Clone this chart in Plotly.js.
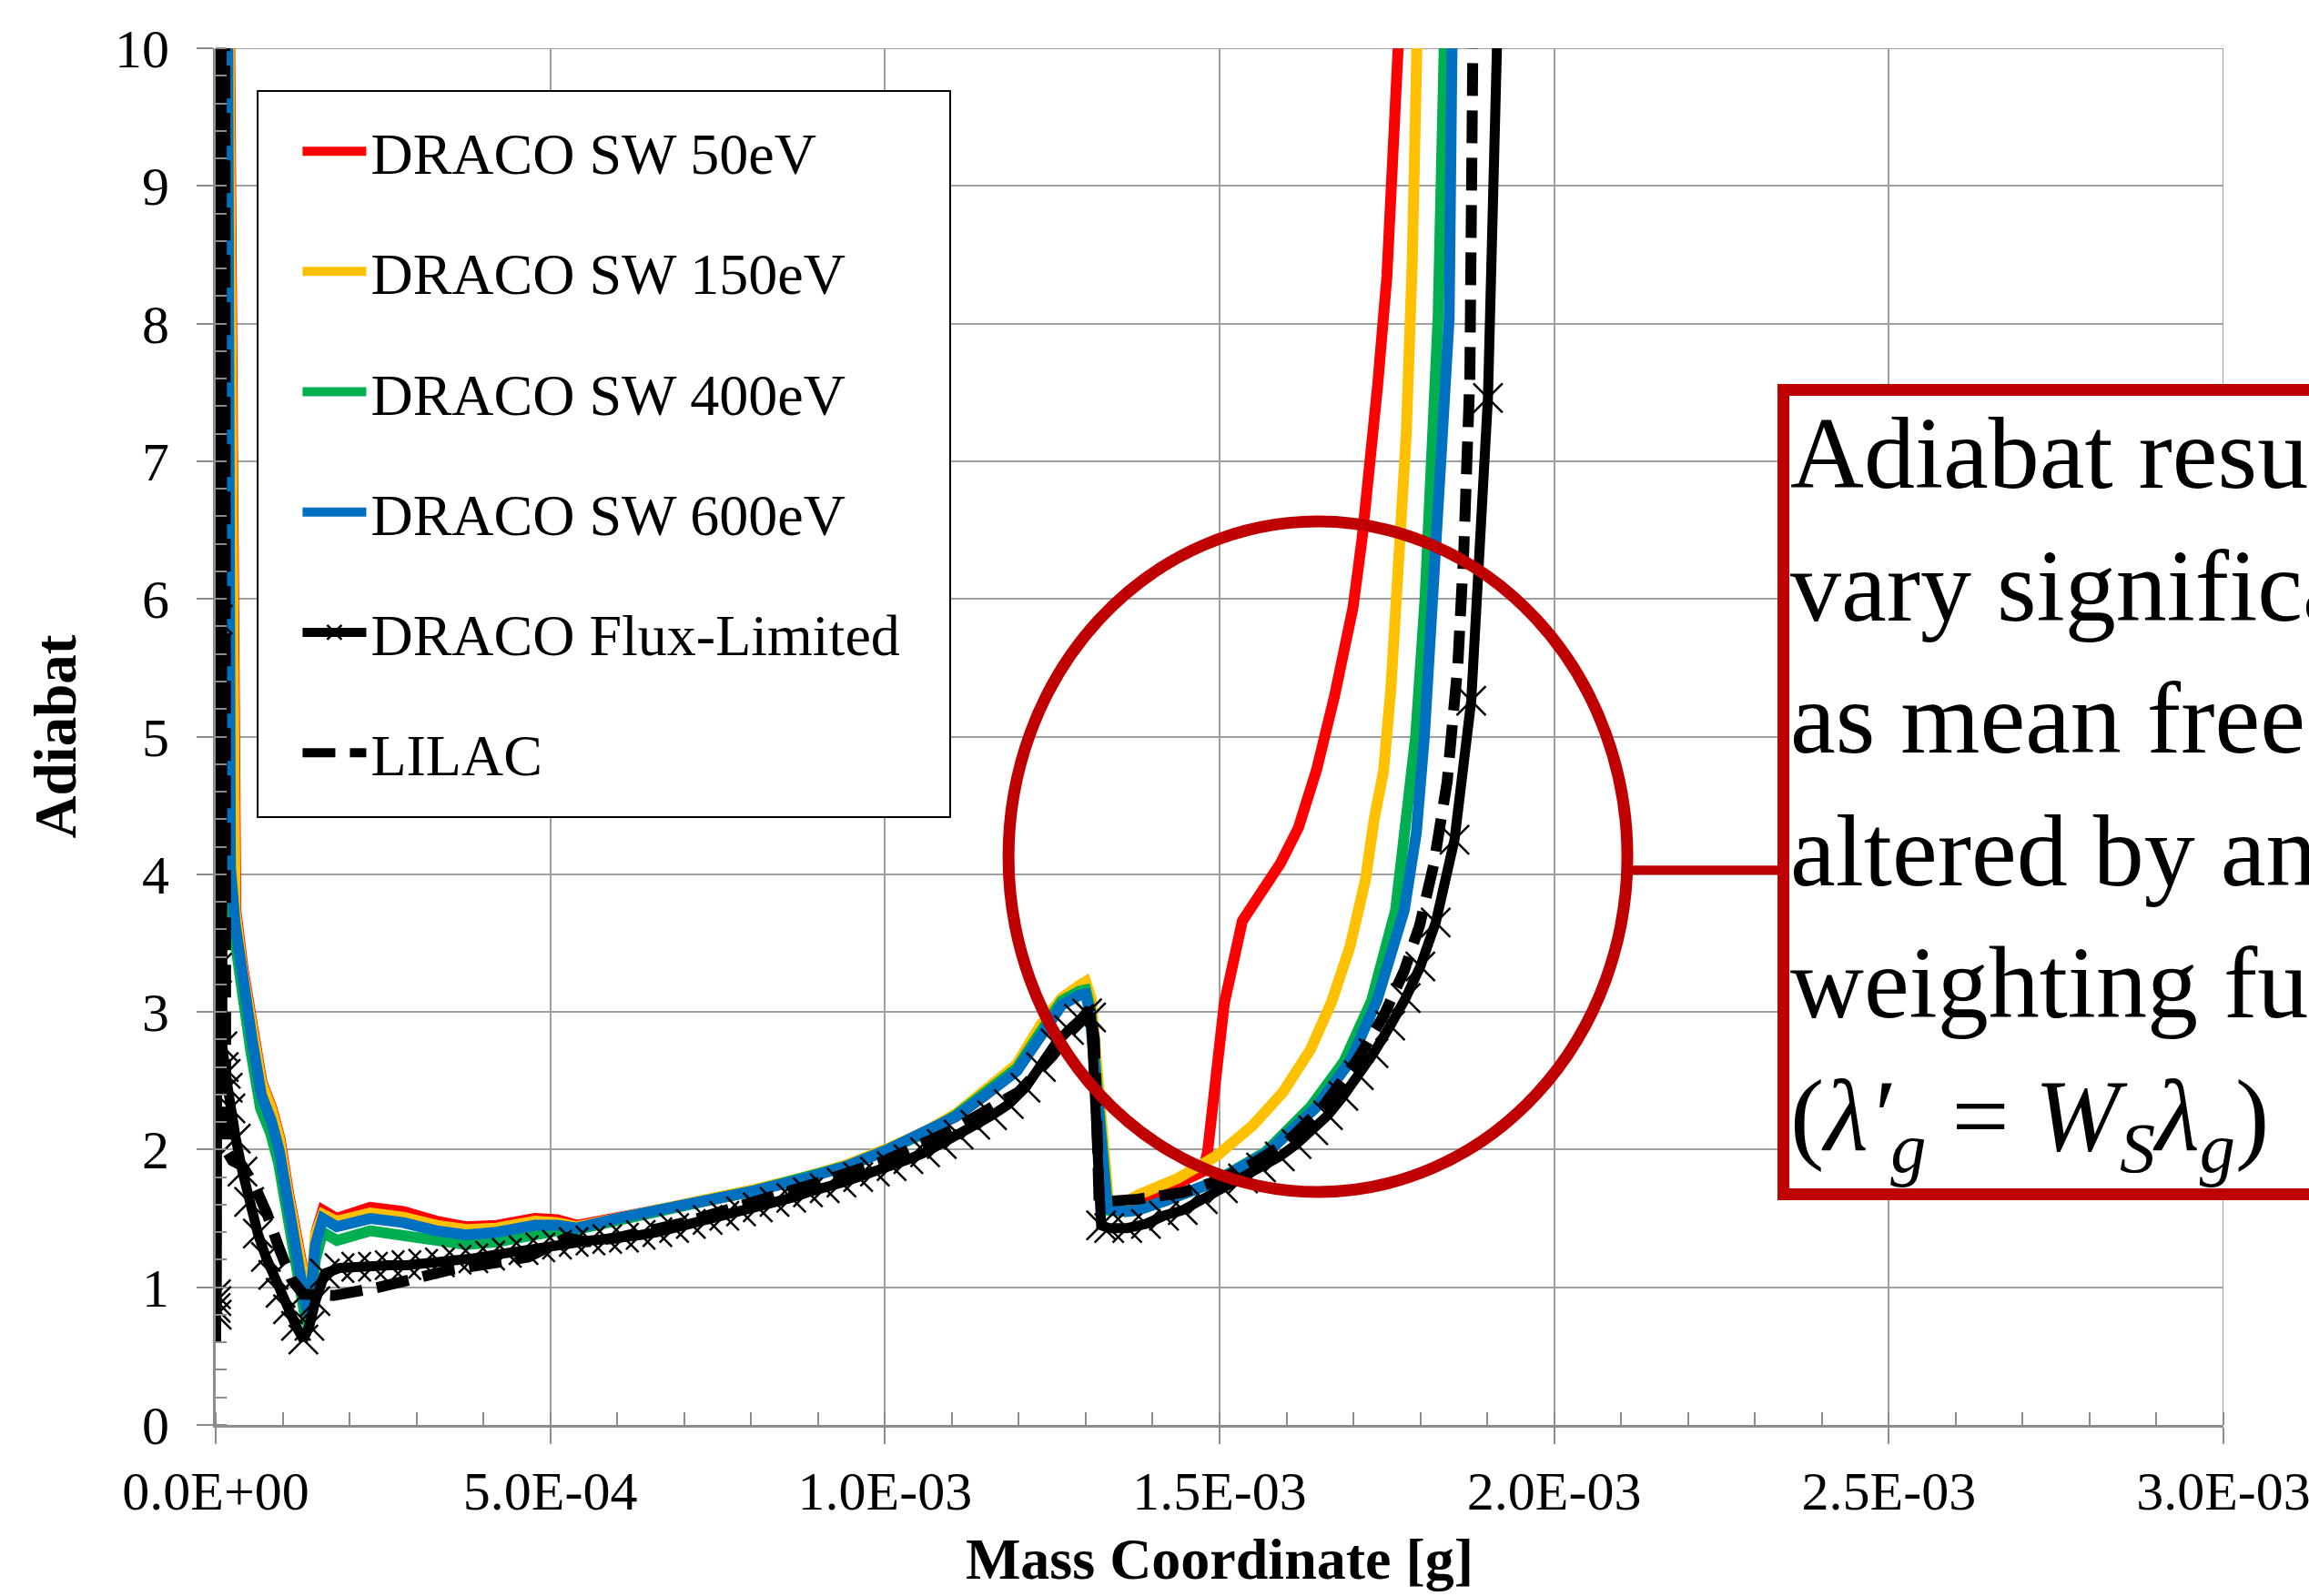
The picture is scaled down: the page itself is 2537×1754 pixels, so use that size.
<!DOCTYPE html>
<html><head><meta charset="utf-8">
<script src="https://cdn.plot.ly/plotly-3.0.1.min.js"></script>
<style>html,body{margin:0;padding:0;background:#fff}#chart{width:2537px;height:1754px}</style>
</head><body><div id="chart"></div><script>
// ---- data: [mass coordinate (g), adiabat] ----
const sw50 = [[0,0.9],[5e-6,10],[13e-6,30],[21e-6,10],[26e-6,4.1],[30e-6,3.74],[41e-6,3.31],[55e-6,2.90],[69e-6,2.49],[84e-6,2.30],[96e-6,2.08],[109e-6,1.68],[123e-6,1.27],[134e-6,0.98],[141e-6,0.85],[150e-6,1.40],[160e-6,1.56],[181e-6,1.50],[231e-6,1.58],[280e-6,1.55],[330e-6,1.48],[374e-6,1.44],[420e-6,1.45],[477e-6,1.50],[510e-6,1.49],[540e-6,1.45],[600e-6,1.50],[665e-6,1.56],[735e-6,1.63],[804e-6,1.70],[873e-6,1.78],[943e-6,1.88],[1.000e-3,1.99],[1.060e-3,2.12],[1.106e-3,2.24],[1.151e-3,2.40],[1.197e-3,2.58],[1.232e-3,2.85],[1.264e-3,3.08],[1.290e-3,3.15],[1.300e-3,3.16],[1.307e-3,3.02],[1.333e-3,1.58],[1.360e-3,1.58],[1.378e-3,1.62],[1.437e-3,1.74],[1.475e-3,1.84],[1.482e-3,1.98],[1.507e-3,3.06],[1.534e-3,3.66],[1.591e-3,4.08],[1.618e-3,4.34],[1.645e-3,4.76],[1.672e-3,5.30],[1.6995e-3,5.94],[1.713e-3,6.44],[1.7245e-3,6.91],[1.736e-3,7.54],[1.750e-3,8.34],[1.758e-3,8.97],[1.772e-3,10.0],[1.782e-3,11.5]];
const sw150 = [[0,0.9],[5e-6,10],[13e-6,30],[20e-6,10],[25e-6,4.1],[29e-6,3.74],[40e-6,3.31],[54e-6,2.90],[68e-6,2.49],[83e-6,2.30],[95e-6,2.08],[108e-6,1.68],[122e-6,1.27],[133e-6,0.98],[140e-6,0.85],[149e-6,1.38],[160e-6,1.53],[181e-6,1.48],[231e-6,1.54],[280e-6,1.51],[330e-6,1.45],[374e-6,1.42],[420e-6,1.43],[477e-6,1.48],[510e-6,1.47],[540e-6,1.44],[600e-6,1.50],[665e-6,1.56],[735e-6,1.64],[804e-6,1.71],[873e-6,1.79],[943e-6,1.89],[1.000e-3,2.00],[1.060e-3,2.13],[1.106e-3,2.26],[1.151e-3,2.43],[1.197e-3,2.62],[1.232e-3,2.90],[1.264e-3,3.10],[1.290e-3,3.19],[1.300e-3,3.22],[1.308e-3,3.10],[1.334e-3,1.62],[1.360e-3,1.62],[1.378e-3,1.67],[1.437e-3,1.79],[1.496e-3,1.956],[1.550e-3,2.177],[1.595e-3,2.419],[1.636e-3,2.728],[1.668e-3,3.08],[1.695e-3,3.477],[1.718e-3,3.96],[1.731e-3,4.40],[1.745e-3,4.75],[1.756e-3,5.35],[1.768e-3,6.36],[1.779e-3,7.2],[1.788e-3,8.47],[1.799e-3,10.0],[1.808e-3,13]];
const sw400 = [[0,0.9],[5e-6,10],[12e-6,30],[17e-6,10],[21e-6,4.0],[28e-6,3.55],[39e-6,3.12],[53e-6,2.70],[67e-6,2.30],[82e-6,2.12],[94e-6,1.90],[107e-6,1.50],[121e-6,1.10],[132e-6,0.83],[138e-6,0.72],[149e-6,1.20],[160e-6,1.40],[181e-6,1.34],[231e-6,1.41],[280e-6,1.38],[330e-6,1.33],[374e-6,1.31],[420e-6,1.33],[477e-6,1.39],[510e-6,1.41],[540e-6,1.42],[600e-6,1.49],[665e-6,1.56],[735e-6,1.63],[804e-6,1.70],[873e-6,1.78],[943e-6,1.88],[1.000e-3,1.99],[1.060e-3,2.12],[1.106e-3,2.25],[1.151e-3,2.41],[1.197e-3,2.59],[1.232e-3,2.85],[1.264e-3,3.08],[1.290e-3,3.15],[1.300e-3,3.16],[1.307e-3,3.02],[1.333e-3,1.56],[1.360e-3,1.55],[1.378e-3,1.56],[1.420e-3,1.63],[1.490e-3,1.76],[1.568e-3,1.98],[1.636e-3,2.31],[1.686e-3,2.64],[1.727e-3,3.08],[1.763e-3,3.74],[1.778e-3,4.35],[1.793e-3,5.0],[1.807e-3,6.0],[1.819e-3,7.2],[1.8265e-3,8.04],[1.8356e-3,10.0],[1.843e-3,14]];
const sw600 = [[0,0.9],[5e-6,10],[12e-6,30],[18e-6,10],[22e-6,4.05],[29e-6,3.64],[40e-6,3.22],[54e-6,2.81],[68e-6,2.40],[83e-6,2.21],[95e-6,1.99],[108e-6,1.58],[122e-6,1.17],[133e-6,0.90],[139e-6,0.80],[149e-6,1.31],[160e-6,1.50],[181e-6,1.44],[231e-6,1.50],[280e-6,1.47],[330e-6,1.41],[374e-6,1.38],[420e-6,1.40],[477e-6,1.45],[510e-6,1.45],[540e-6,1.43],[600e-6,1.50],[665e-6,1.56],[735e-6,1.63],[804e-6,1.70],[873e-6,1.78],[943e-6,1.88],[1.000e-3,1.99],[1.060e-3,2.12],[1.106e-3,2.24],[1.151e-3,2.40],[1.197e-3,2.57],[1.232e-3,2.82],[1.264e-3,3.05],[1.290e-3,3.12],[1.300e-3,3.13],[1.306e-3,3.00],[1.332e-3,1.57],[1.360e-3,1.55],[1.378e-3,1.56],[1.420e-3,1.63],[1.490e-3,1.76],[1.572e-3,1.98],[1.645e-3,2.31],[1.695e-3,2.64],[1.735e-3,3.08],[1.776e-3,3.74],[1.794e-3,4.30],[1.806e-3,5.0],[1.820e-3,6.0],[1.833e-3,7.2],[1.843e-3,8.04],[1.849e-3,10.0],[1.856e-3,14]];
const fluxLimited = [[0,0.85],[0.5e-6,0.95],[1e-6,0.9],[1.5e-6,0.8],[2e-6,3.32],[3e-6,5.85],[5e-6,16],[8e-6,16],[10e-6,2.75],[12e-6,2.6],[15e-6,2.55],[18e-6,2.45],[22e-6,2.3],[30e-6,2.08],[40e-6,1.84],[50e-6,1.62],[63e-6,1.39],[75e-6,1.22],[86e-6,1.09],[97e-6,0.96],[108e-6,0.84],[120e-6,0.72],[131e-6,0.62],[140e-6,0.72],[149e-6,0.90],[163e-6,1.10],[185e-6,1.14],[210e-6,1.15],[235e-6,1.15],[260e-6,1.16],[285e-6,1.16],[310e-6,1.17],[335e-6,1.18],[360e-6,1.20],[385e-6,1.21],[410e-6,1.23],[435e-6,1.25],[460e-6,1.27],[485e-6,1.29],[510e-6,1.31],[535e-6,1.33],[560e-6,1.34],[585e-6,1.35],[610e-6,1.36],[635e-6,1.38],[660e-6,1.40],[685e-6,1.43],[710e-6,1.46],[735e-6,1.49],[760e-6,1.52],[785e-6,1.55],[810e-6,1.58],[835e-6,1.62],[860e-6,1.65],[885e-6,1.69],[910e-6,1.72],[935e-6,1.76],[960e-6,1.80],[985e-6,1.84],[1.010e-3,1.88],[1.035e-3,1.93],[1.060e-3,1.98],[1.085e-3,2.04],[1.110e-3,2.11],[1.135e-3,2.18],[1.160e-3,2.25],[1.185e-3,2.33],[1.210e-3,2.45],[1.233e-3,2.60],[1.255e-3,2.77],[1.275e-3,2.87],[1.290e-3,2.95],[1.302e-3,2.99],[1.308e-3,2.96],[1.323e-3,1.45],[1.335e-3,1.43],[1.362e-3,1.43],[1.390e-3,1.46],[1.417e-3,1.52],[1.445e-3,1.56],[1.475e-3,1.64],[1.505e-3,1.72],[1.535e-3,1.79],[1.562e-3,1.87],[1.590e-3,1.95],[1.615e-3,2.04],[1.640e-3,2.14],[1.662e-3,2.25],[1.685e-3,2.39],[1.708e-3,2.54],[1.730e-3,2.70],[1.755e-3,2.90],[1.778e-3,3.10],[1.800e-3,3.33],[1.823e-3,3.65],[1.851e-3,4.25],[1.876e-3,5.26],[1.901e-3,7.46],[1.925e-3,12]];
const lilac = [[0,0.6],[3e-6,8],[6e-6,20],[12e-6,20],[15e-6,2.0],[25e-6,1.92],[40e-6,1.88],[58e-6,1.74],[77e-6,1.53],[95e-6,1.28],[113e-6,1.06],[131e-6,0.95],[176e-6,0.94],[244e-6,1.00],[300e-6,1.07],[354e-6,1.13],[420e-6,1.18],[467e-6,1.22],[500e-6,1.30],[525e-6,1.36],[555e-6,1.33],[600e-6,1.36],[700e-6,1.47],[800e-6,1.61],[900e-6,1.76],[1.000e-3,1.92],[1.100e-3,2.14],[1.200e-3,2.42],[1.250e-3,2.68],[1.290e-3,2.93],[1.306e-3,3.02],[1.313e-3,2.8],[1.320e-3,1.62],[1.378e-3,1.64],[1.446e-3,1.69],[1.500e-3,1.78],[1.550e-3,1.90],[1.600e-3,2.05],[1.654e-3,2.31],[1.704e-3,2.64],[1.745e-3,2.97],[1.776e-3,3.30],[1.799e-3,3.63],[1.820e-3,4.07],[1.831e-3,4.40],[1.840e-3,4.67],[1.856e-3,5.52],[1.865e-3,6.36],[1.874e-3,7.62],[1.878e-3,8.89],[1.881e-3,10.0],[1.884e-3,13]];

const seriesNames = ['DRACO SW 50eV','DRACO SW 150eV','DRACO SW 400eV','DRACO SW 600eV','DRACO Flux-Limited','LILAC'];
const xTickVals = [0, 0.0005, 0.001, 0.0015, 0.002, 0.0025, 0.003];
const xTickText = ['0.0E+00','5.0E-04','1.0E-03','1.5E-03','2.0E-03','2.5E-03','3.0E-03'];
const noteLines = ['Adiabat results','vary significantly','as mean free path is','altered by an SW','weighting function','(<i>λ′</i><sub><i>g</i></sub> = <i>W</i><sub><i>S</i></sub><i>λ</i><sub><i>g</i></sub>)'];

const FONT = 'Liberation Serif, Times New Roman, serif';
const xs = a => a.map(p => p[0]);
const ys = a => a.map(p => p[1]);

function lineTrace(d, name, color, grp) {
  return {x: xs(d), y: ys(d), name: name, mode: 'lines', legendgroup: grp,
          line: {color: color, width: 12}};
}
const traces = [
  lineTrace(sw50, seriesNames[0], '#FF0000', 'g1'),
  lineTrace(sw150, seriesNames[1], '#FFC000', 'g2'),
  lineTrace(sw400, seriesNames[2], '#00B050', 'g3'),
  lineTrace(sw600, seriesNames[3], '#0070C0', 'g4'),
  {x: xs(fluxLimited), y: ys(fluxLimited), name: seriesNames[4], mode: 'lines+markers', legendgroup: 'g5',
   line: {color: '#000000', width: 11},
   marker: {symbol: 'x-thin', size: 32, color: '#000000', line: {color: '#000000', width: 2.5}}},
  {x: xs(lilac), y: ys(lilac), name: seriesNames[5], mode: 'lines', legendgroup: 'g6',
   line: {color: '#000000', width: 12, dash: '36px,16px'}}
];

const GRID = '#A0A0A0', AX = '#8C8C8C';
const layout = {
  width: 2537, height: 1754,
  margin: {l: 237, r: 94, t: 53, b: 188},
  paper_bgcolor: '#FFFFFF', plot_bgcolor: '#FFFFFF',
  font: {family: FONT, color: '#000000', size: 60},
  showlegend: true,
  legend: {x: 0.041, y: 0.957, xanchor: 'left', yanchor: 'top', bgcolor: 'rgba(0,0,0,0)', borderwidth: 0,
           font: {family: FONT, size: 64, color: '#000000'}, tracegroupgap: 46, itemwidth: 70},
  xaxis: {range: [0, 0.003], tickvals: xTickVals, ticktext: xTickText, ticks: 'outside', ticklen: 18, tickwidth: 2,
          tickcolor: AX, showgrid: true, gridcolor: GRID, gridwidth: 2, showline: true, linecolor: AX, linewidth: 3,
          zeroline: false, automargin: false, ticklabeloverflow: 'allow',
          minor: {ticks: 'inside', ticklen: 14, tickwidth: 2, tickcolor: AX, dtick: 0.0001, showgrid: false},
          tickfont: {family: FONT, size: 60, color: '#000000'},
          title: {text: 'Mass Coordinate [g]', standoff: 20, font: {family: FONT, size: 64, weight: 'bold', color: '#000000'}}},
  yaxis: {range: [0, 10], tick0: 0, dtick: 1, ticks: 'outside', ticklen: 18, tickwidth: 2, tickcolor: AX,
          showgrid: true, gridcolor: GRID, gridwidth: 2, showline: true, linecolor: AX, linewidth: 3,
          zeroline: false, automargin: false, ticklabelstandoff: 18, ticklabeloverflow: 'allow',
          minor: {ticks: 'inside', ticklen: 12, tickwidth: 2, tickcolor: AX, dtick: 0.2, showgrid: false},
          tickfont: {family: FONT, size: 60, color: '#000000'},
          title: {text: 'Adiabat', standoff: 22, font: {family: FONT, size: 65, weight: 'bold', color: '#000000'}}},
  shapes: [
    {type: 'line', xref: 'x', yref: 'paper', x0: 0.003, x1: 0.003, y0: 0, y1: 1,
     line: {color: GRID, width: 2}, layer: 'below'},
    {type: 'line', xref: 'paper', yref: 'y', x0: 0, x1: 1, y0: 10, y1: 10,
     line: {color: GRID, width: 2}, layer: 'below'},
    {type: 'rect', xref: 'paper', yref: 'paper', x0: 0.0209, x1: 0.3658, y0: 0.4415, y1: 0.969,
     line: {color: '#000000', width: 2}, fillcolor: '#FFFFFF', layer: 'above'},
    {type: 'circle', xref: 'x', yref: 'y', x0: 1.1846e-3, x1: 2.1093e-3, y0: 1.692, y1: 6.563,
     line: {color: '#C00000', width: 13}, layer: 'above'},
    {type: 'line', xref: 'paper', yref: 'y', x0: 0.7031, x1: 0.779, y0: 4.03, y1: 4.03,
     line: {color: '#C00000', width: 10}, layer: 'above'}
  ],
  annotations: [
    {xref: 'paper', yref: 'paper', x: 0.7779, y: 0.7562, xanchor: 'left', yanchor: 'top', align: 'left',
     showarrow: false, text: noteLines.join('<br>'), font: {family: FONT, size: 112, color: '#000000'},
     bordercolor: '#C00000', borderwidth: 13, borderpad: 1, bgcolor: '#FFFFFF'}
  ]
};
Plotly.newPlot('chart', traces, layout, {staticPlot: true, displayModeBar: false});
</script></body></html>
